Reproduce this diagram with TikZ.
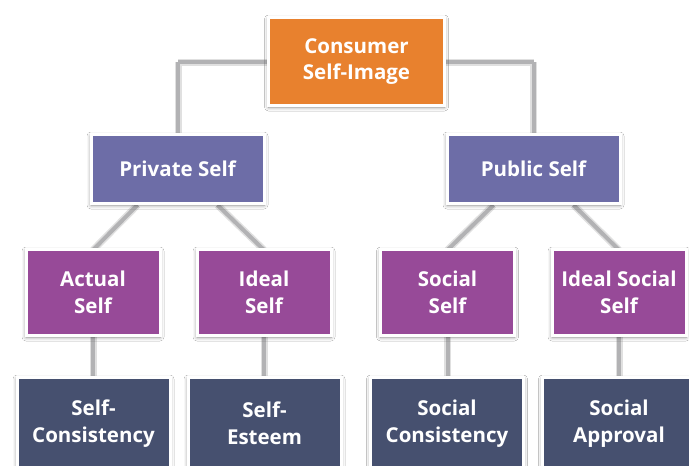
\documentclass[tikz,border=0pt]{standalone}
\usepackage{fontspec}
\setmainfont{Open Sans}
\usetikzlibrary{shadows.blur}
\definecolor{orangebox}{HTML}{E8812E}
\definecolor{bluebox}{HTML}{6D6DA7}
\definecolor{magentabox}{HTML}{974A98}
\definecolor{slatebox}{HTML}{46506F}
\definecolor{linkgray}{HTML}{B2B2B4}
\tikzset{
  box/.style={draw=white, line width=3pt, text=white, align=center,
    font=\fontsize{20.5}{27}\selectfont\bfseries, inner sep=0pt,
    blur shadow={shadow xshift=0pt, shadow yshift=-1.5pt,
      shadow blur radius=4pt, shadow blur steps=6, shadow opacity=45}},
  topbox/.style={box, fill=orangebox, minimum width=176pt, minimum height=88pt,
    font=\fontsize{20.5}{26}\selectfont\bfseries},
  midbox/.style={box, fill=bluebox, minimum width=173pt, minimum height=69pt},
  selfbox/.style={box, fill=magentabox, minimum width=134pt, minimum height=86pt},
  leafbox/.style={box, fill=slatebox, minimum width=153pt, minimum height=92pt},
  link/.style={draw=linkgray, line width=4pt},
  linkhalo/.style={draw=black!12, line width=7pt}
}
\begin{document}
\begin{tikzpicture}[x=1pt,y=-1pt]
  \fill[white] (0,0) rectangle (689,466);
  \useasboundingbox (0,0) rectangle (689,466);
  \clip (0,0) rectangle (689,466);

  % connector coordinates
  \coordinate (jl) at (178,62);
  \coordinate (jr) at (533.5,62);
  \coordinate (pl1) at (137.5,205);
  \coordinate (pl2) at (217.5,205);
  \coordinate (pr1) at (493.5,205);
  \coordinate (pr2) at (573.5,205);

  % connectors, drawn beneath the boxes
  \foreach \s in {linkhalo,link}{
    \draw[\s] (jl) -- (jr);
    \draw[\s] (jl) -- (178,140);
    \draw[\s] (jr) -- (533.5,140);
    \draw[\s] (pl1) -- (93,250);
    \draw[\s] (pl2) -- (264,250);
    \draw[\s] (pr1) -- (447.5,250);
    \draw[\s] (pr2) -- (619,250);
    \draw[\s] (93,330) -- (93,380);
    \draw[\s] (264,330) -- (264,380);
    \draw[\s] (447.5,330) -- (447.5,380);
    \draw[\s] (619,330) -- (619,380);
  }

  % boxes
  \node[topbox] (csi) at (356.5,61.5) {Consumer\\Self-Image};
  \node[midbox] (priv) at (177.5,169) {Private Self};
  \node[midbox] (pub) at (533.5,169) {Public Self};
  \node[selfbox] (act) at (93,292.5) {Actual\\Self};
  \node[selfbox] (ideal) at (264,292.5) {Ideal\\Self};
  \node[selfbox] (soc) at (447.5,292.5) {Social\\Self};
  \node[selfbox] (isoc) at (619,292.5) {Ideal Social\\Self};
  \node[leafbox] (scons) at (93.5,423.5) {Self-\\Consistency};
  \node[leafbox] (sest) at (264.5,423.5) {Self-\\Esteem};
  \node[leafbox] (socc) at (447,423.5) {Social\\Consistency};
  \node[leafbox] (soca) at (619,423.5) {Social\\Approval};
\end{tikzpicture}
\end{document}
